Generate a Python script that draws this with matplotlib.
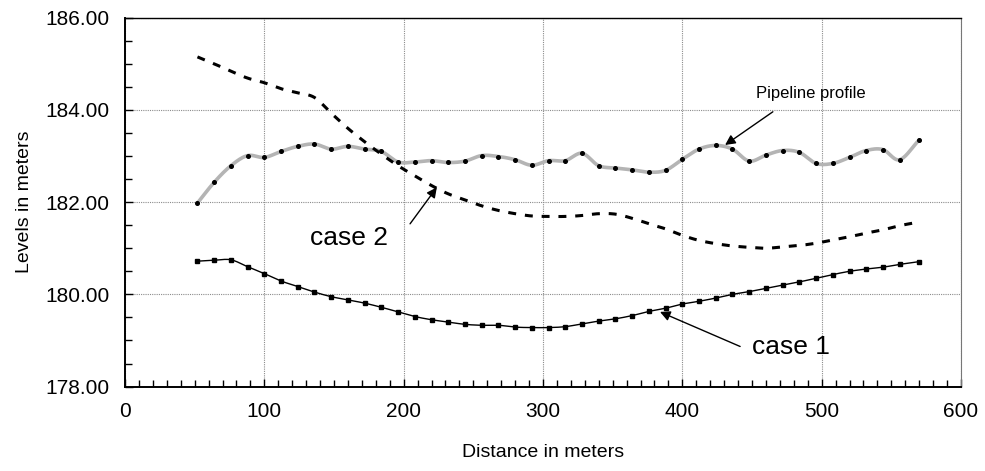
import numpy as np
import matplotlib.pyplot as plt
from matplotlib.ticker import MultipleLocator, FormatStrFormatter

plt.rcParams['font.family'] = ['Liberation Sans', 'DejaVu Sans']

# Stations along the pipeline (m)
station = [52, 64, 76, 88, 100, 112, 124, 136, 148, 160, 172, 184, 196, 208, 220,
           232, 244, 256, 268, 280, 292, 304, 316, 328, 340, 352, 364, 376, 388, 400,
           412, 424, 436, 448, 460, 472, 484, 496, 508, 520, 532, 544, 556, 570]

# Pipeline profile level
profile = [181.98, 182.43, 182.79, 183.01, 182.97, 183.10, 183.21, 183.26, 183.15, 183.21,
           183.15, 183.10, 182.87, 182.87, 182.90, 182.86, 182.89, 183.01, 182.99, 182.92,
           182.80, 182.90, 182.90, 183.06, 182.79, 182.74, 182.70, 182.65, 182.69, 182.93,
           183.15, 183.23, 183.15, 182.89, 183.02, 183.12, 183.08, 182.84, 182.84, 182.97,
           183.12, 183.14, 182.92, 183.35]

# Hydraulic grade line, case 1
case1 = [180.72, 180.74, 180.75, 180.60, 180.45, 180.29, 180.17, 180.05, 179.95, 179.88,
         179.81, 179.72, 179.62, 179.52, 179.45, 179.40, 179.35, 179.33, 179.33, 179.29,
         179.28, 179.28, 179.30, 179.36, 179.42, 179.47, 179.54, 179.63, 179.70, 179.79,
         179.85, 179.92, 180.00, 180.06, 180.13, 180.20, 180.27, 180.35, 180.43, 180.50,
         180.55, 180.59, 180.65, 180.71]

# Hydraulic grade line, case 2
case2 = [185.15, 185.00, 184.84, 184.69, 184.59, 184.46, 184.37, 184.27, 183.93, 183.60,
         183.31, 183.04, 182.79, 182.57, 182.36, 182.18, 182.05, 181.92, 181.82, 181.75,
         181.70, 181.69, 181.69, 181.71, 181.75, 181.74, 181.65, 181.53, 181.42, 181.28,
         181.17, 181.10, 181.05, 181.02, 181.00, 181.03, 181.06, 181.11, 181.18, 181.25,
         181.33, 181.40, 181.49, 181.57]


def smooth(x, y, n=16):
    """Catmull-Rom curve through the points, like a spreadsheet 'smoothed line'."""
    x = np.asarray(x, float)
    y = np.asarray(y, float)
    px = np.concatenate([[2 * x[0] - x[1]], x, [2 * x[-1] - x[-2]]])
    py = np.concatenate([[2 * y[0] - y[1]], y, [2 * y[-1] - y[-2]]])
    t = np.linspace(0, 1, n, endpoint=False)[:, None]
    xs, ys = [], []
    for i in range(1, len(px) - 2):
        for p, out in ((px, xs), (py, ys)):
            p0, p1, p2, p3 = p[i - 1], p[i], p[i + 1], p[i + 2]
            seg = 0.5 * (2 * p1 + (-p0 + p2) * t
                         + (2 * p0 - 5 * p1 + 4 * p2 - p3) * t ** 2
                         + (-p0 + 3 * p1 - 3 * p2 + p3) * t ** 3)
            out.append(seg.ravel())
    xs.append([x[-1]])
    ys.append([y[-1]])
    return np.concatenate(xs), np.concatenate(ys)


fig = plt.figure(figsize=(9.85, 4.71), dpi=100)
ax = fig.add_axes([0.1269, 0.1792, 0.8487, 0.7832])

# pipeline profile: thick grey smoothed line with point markers
sx, sy = smooth(station, profile)
ax.plot(sx, sy, color='#b4b4b4', lw=2.6, solid_capstyle='round', zorder=3)
ax.plot(station, profile, 'o', color='black', ms=2.6, zorder=4)

# case 2: heavy dashed line
sx, sy = smooth(station, case2)
ax.plot(sx, sy, color='black', lw=2.2, linestyle=(0, (2.6, 2.9)), zorder=3)

# case 1: thin line with square markers
sx, sy = smooth(station, case1)
ax.plot(sx, sy, color='black', lw=1.0, zorder=3)
ax.plot(station, case1, 's', color='black', ms=2.6, zorder=4)

ax.set_xlim(0, 600)
ax.set_ylim(178, 186)
ax.xaxis.set_major_locator(MultipleLocator(100))
ax.xaxis.set_minor_locator(MultipleLocator(10))
ax.yaxis.set_major_locator(MultipleLocator(2))
ax.yaxis.set_minor_locator(MultipleLocator(0.5))
ax.yaxis.set_major_formatter(FormatStrFormatter('%.2f'))
ax.tick_params(which='both', direction='in', labelsize=15, width=1, pad=11)
ax.tick_params(which='major', length=6)
ax.tick_params(which='minor', length=5)
ax.grid(True, which='major', color='#8c8c8c', lw=0.8, linestyle=(0, (1, 1)))
for side in ('left', 'bottom'):
    ax.spines[side].set_linewidth(1.4)
ax.spines['top'].set_linewidth(1.0)
ax.spines['right'].set_linewidth(0.8)
ax.spines['right'].set_color('#777777')

ax.set_xlabel('Distance in meters', fontsize=14, labelpad=17)
ax.set_ylabel('Levels in meters', fontsize=14, labelpad=9)

arrow = dict(arrowstyle='-|>,head_length=0.6,head_width=0.3', color='black',
             lw=1.0, mutation_scale=10, shrinkA=0, shrinkB=0)

ax.text(492.5, 184.35, 'Pipeline profile', fontsize=12, ha='center', va='center')
ax.annotate('', xy=(430.7, 183.24), xytext=(465, 183.96), arrowprops=arrow)

ax.text(161, 181.23, 'case 2', fontsize=19, ha='center', va='center')
ax.annotate('', xy=(223.8, 182.32), xytext=(204.6, 181.53), arrowprops=arrow)

ax.text(478, 178.86, 'case 1', fontsize=19, ha='center', va='center')
ax.annotate('', xy=(384, 179.62), xytext=(441.5, 178.87), arrowprops=arrow)

fig.savefig('out.png', dpi=100)
